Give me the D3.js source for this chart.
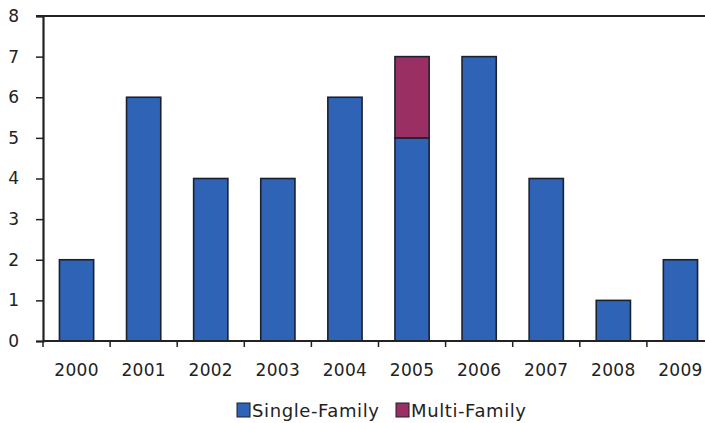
<!DOCTYPE html>
<html><head><meta charset="utf-8">
<script src="https://cdn.jsdelivr.net/npm/d3@7"></script>
<style>body{margin:0;background:#fff;}svg{display:block;}text{font-family:"DejaVu Sans",sans-serif;fill:#222;}</style>
</head><body>
<svg id="c" width="705" height="423"></svg>
<script>
const years = ["2000","2001","2002","2003","2004","2005","2006","2007","2008","2009"];
const singleFamily = [2,6,4,4,6,5,7,4,1,2];
const multiFamily = [0,0,0,0,0,2,0,0,0,0];
const yTicks = [0,1,2,3,4,5,6,7,8];
const seriesNames = ["Single-Family","Multi-Family"];
const colors = ["#2f63b6","#9a2f63"];

(function(){
const svg = d3.select("#c");
const mL = 43, mR = 714, mT = 16, mB = 341;
const x = d3.scaleBand().domain(years).range([mL, mR]).paddingInner(0.49).paddingOuter(0.245);
const y = d3.scaleLinear().domain([0,8]).range([mB, mT]);

const rows = years.map((yr,i)=>({year:yr, "Single-Family":singleFamily[i], "Multi-Family":multiFamily[i]}));
const stack = d3.stack().keys(seriesNames)(rows);

svg.append("line").attr("x1",36).attr("x2",705).attr("y1",y(8)).attr("y2",y(8)).attr("stroke","#222").attr("stroke-width",2.2);

stack.forEach((s,si)=>{
  svg.append("g").selectAll("rect").data(s.filter(d=>d[1]-d[0]>0)).join("rect")
    .attr("x",d=>x(d.data.year)).attr("width",x.bandwidth())
    .attr("y",d=>y(d[1])).attr("height",d=>y(d[0])-y(d[1]))
    .attr("fill",colors[si]).attr("stroke","#1c2130").attr("stroke-width",1.6);
});

const ya = svg.append("g").attr("transform",`translate(${mL},0)`)
  .call(d3.axisLeft(y).tickValues(yTicks).tickFormat(d3.format("d")).tickSize(7).tickPadding(17));
ya.select(".domain").attr("stroke","#222").attr("stroke-width",2.2);
ya.selectAll(".tick line").attr("stroke","#222").attr("stroke-width",1.5);
ya.selectAll(".tick text").style("font-size","17px").attr("fill","#222");

const xa = svg.append("g").attr("transform",`translate(0,${mB})`)
  .call(d3.axisBottom(x).tickSize(0).tickPadding(23));
xa.select(".domain").attr("stroke","#222").attr("stroke-width",2).attr("d",`M${mL},0H705`);
xa.selectAll(".tick text").style("font-size","17px").attr("fill","#222").style("letter-spacing","0.3px");
const step = x.step();
svg.append("g").selectAll("line").data(years).join("line")
  .attr("x1",(d,i)=>mL+step*i).attr("x2",(d,i)=>mL+step*i)
  .attr("y1",mB).attr("y2",mB+6)
  .attr("stroke","#222").attr("stroke-width",1.5);

const lg = svg.append("g");
const legendItems = [{name:seriesNames[0],x:237,c:colors[0]},{name:seriesNames[1],x:396,c:colors[1]}];
legendItems.forEach(it=>{
  lg.append("rect").attr("x",it.x).attr("y",403).attr("width",13).attr("height",14).attr("fill",it.c).attr("stroke","#1c2130").attr("stroke-width",1);
  lg.append("text").attr("x",it.x+15).attr("y",417).style("font-size","18px").style("letter-spacing","0.6px").text(it.name);
});
})();
</script>
</body></html>
